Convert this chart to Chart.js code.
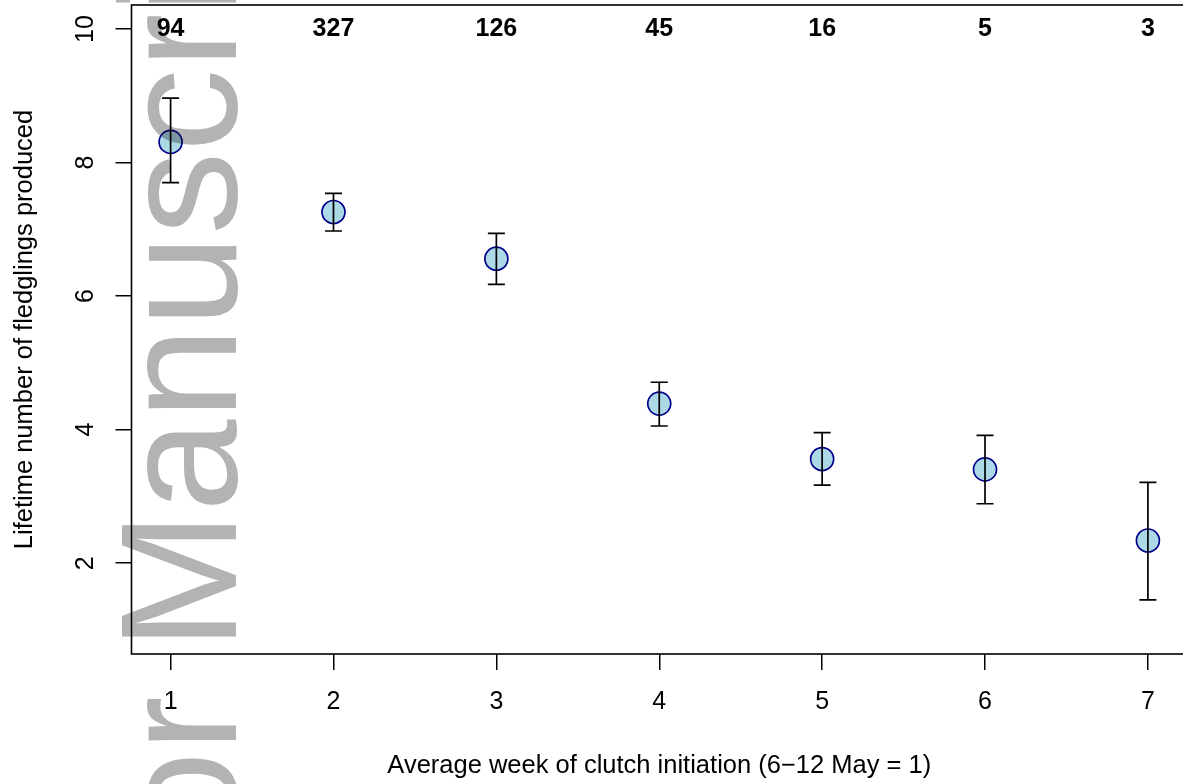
<!DOCTYPE html>
<html>
<head>
<meta charset="utf-8">
<script src="https://cdn.jsdelivr.net/npm/chart.js@4.4.1/dist/chart.umd.min.js"></script>
<style>
  html, body { margin: 0; padding: 0; background: #fff; overflow: hidden; }
  #wrap { width: 1190px; height: 784px; }
</style>
</head>
<body>
<div id="wrap"><canvas id="c" width="1190" height="784"></canvas></div>
<script>
// ---- data ----
const weeks  = [1, 2, 3, 4, 5, 6, 7];
const means  = [8.31, 7.26, 6.56, 4.39, 3.56, 3.405, 2.34];
const upper  = [8.965, 7.54, 6.94, 4.71, 3.955, 3.915, 3.21];
const lower  = [7.70, 6.975, 6.175, 4.055, 3.17, 2.89, 1.45];
const counts = [94, 327, 126, 45, 16, 5, 3];
const xTicks = [1, 2, 3, 4, 5, 6, 7];
const yTicks = [2, 4, 6, 8, 10];
const countLabelY = 10;
const xTitle = "Average week of clutch initiation (6\u221212 May = 1)";
const yTitle = "Lifetime number of fledglings produced";
const watermarkBefore = "Author ";
const watermarkAfter = "Manuscript";

const FONT = '"Liberation Sans", Arial, Helvetica, sans-serif';

function zeroPad(s) { s.paddingTop = 0; s.paddingBottom = 0; s.paddingLeft = 0; s.paddingRight = 0; }

const boxPlugin = {
  id: 'box',
  afterDraw(chart) {
    const a = chart.chartArea, ctx = chart.ctx;
    ctx.save();
    ctx.strokeStyle = '#000';
    ctx.lineWidth = 1.6;
    ctx.strokeRect(a.left, a.top, a.right - a.left, a.bottom - a.top);
    ctx.restore();
  }
};

const errorBarPlugin = {
  id: 'errbars',
  afterDatasetsDraw(chart) {
    const xs = chart.scales.x, ys = chart.scales.y, ctx = chart.ctx;
    ctx.save();
    ctx.strokeStyle = '#000';
    ctx.lineWidth = 1.7;
    const cap = 8.5;
    weeks.forEach((w, i) => {
      const px = xs.getPixelForValue(w);
      const pu = ys.getPixelForValue(upper[i]);
      const pl = ys.getPixelForValue(lower[i]);
      ctx.beginPath();
      ctx.moveTo(px, pu); ctx.lineTo(px, pl);
      ctx.moveTo(px - cap, pu); ctx.lineTo(px + cap, pu);
      ctx.moveTo(px - cap, pl); ctx.lineTo(px + cap, pl);
      ctx.stroke();
    });
    // sample-size labels
    ctx.fillStyle = '#000';
    ctx.font = 'bold 25px ' + FONT;
    ctx.textAlign = 'center';
    ctx.textBaseline = 'middle';
    weeks.forEach((w, i) => {
      ctx.fillText(String(counts[i]), xs.getPixelForValue(w), ys.getPixelForValue(countLabelY));
    });
    ctx.restore();
  }
};

const watermarkPlugin = {
  id: 'watermark',
  afterDraw(chart) {
    const ctx = chart.ctx;
    ctx.save();
    ctx.globalCompositeOperation = 'multiply';
    ctx.fillStyle = '#b3b3b3';
    ctx.font = '166px ' + FONT;
    ctx.textBaseline = 'alphabetic';
    ctx.translate(236, 650);
    ctx.rotate(-Math.PI / 2);
    ctx.textAlign = 'left';
    ctx.fillText(watermarkAfter, 0, 0);
    ctx.textAlign = 'right';
    ctx.fillText(watermarkBefore, 0, 0);
    ctx.restore();
  }
};

new Chart(document.getElementById('c'), {
  type: 'scatter',
  data: {
    datasets: [{
      data: weeks.map((w, i) => ({ x: w, y: means[i] })),
      backgroundColor: '#ADD8E6',
      borderColor: '#00008B',
      borderWidth: 1.7,
      pointRadius: 11.5,
      pointHoverRadius: 11.5
    }]
  },
  options: {
    responsive: false,
    animation: false,
    events: [],
    layout: { autoPadding: false, padding: { left: 0, top: 5, right: 3, bottom: 0 } },
    plugins: { legend: { display: false }, tooltip: { enabled: false } },
    scales: {
      x: {
        type: 'linear',
        min: 1 - 0.24, max: 7 + 0.24,
        afterBuildTicks(s) { s.ticks = xTicks.map(v => ({ value: v })); },
        afterFit(s) { s.height = 130; zeroPad(s); },
        grid: { drawOnChartArea: false, drawTicks: true, tickLength: 16, color: '#000', lineWidth: 1.5 },
        border: { display: false },
        ticks: { color: '#000', font: { family: FONT, size: 25 }, padding: 17, maxRotation: 0, minRotation: 0 },
        title: { display: true, text: xTitle, color: '#000', font: { family: FONT, size: 25.5 }, padding: { top: 0, bottom: 2.7 } }
      },
      y: {
        type: 'linear',
        min: 1 - 0.36, max: 10 + 0.36,
        afterBuildTicks(s) { s.ticks = yTicks.map(v => ({ value: v })); },
        afterFit(s) { s.width = 131.5; zeroPad(s); },
        grid: { drawOnChartArea: false, drawTicks: true, tickLength: 16, color: '#000', lineWidth: 1.5 },
        border: { display: false },
        ticks: { color: '#000', font: { family: FONT, size: 25 }, padding: 15, minRotation: 90, maxRotation: 90, crossAlign: 'center' },
        title: { display: true, text: yTitle, color: '#000', font: { family: FONT, size: 25.5 }, padding: { top: 9.5, bottom: 0 } }
      }
    }
  },
  plugins: [errorBarPlugin, boxPlugin, watermarkPlugin]
});
</script>
</body>
</html>
